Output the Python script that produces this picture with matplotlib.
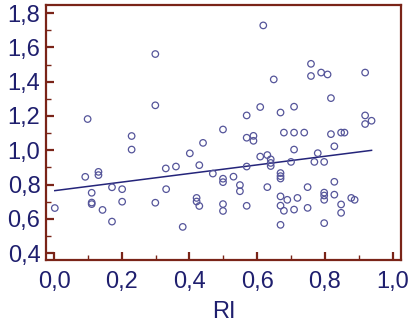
import numpy as np
import matplotlib
matplotlib.use("Agg")
import matplotlib.pyplot as plt
from matplotlib.ticker import MultipleLocator, FuncFormatter

# Points
ri = [0.002, 0.092, 0.099, 0.111, 0.111, 0.111, 0.131, 0.131, 0.143, 0.171,
      0.171, 0.201, 0.201, 0.229, 0.229, 0.299, 0.299, 0.299, 0.330, 0.331,
      0.360, 0.380, 0.401, 0.421, 0.421, 0.429, 0.429, 0.440, 0.469, 0.499,
      0.499, 0.499, 0.499, 0.499, 0.530, 0.549, 0.549, 0.569, 0.569, 0.569,
      0.569, 0.589, 0.589, 0.609, 0.609, 0.618, 0.630, 0.630, 0.640, 0.640,
      0.640, 0.649, 0.669, 0.669, 0.669, 0.669, 0.669, 0.669, 0.669, 0.679,
      0.679, 0.689, 0.700, 0.709, 0.709, 0.709, 0.709, 0.719, 0.739, 0.749,
      0.749, 0.759, 0.759, 0.769, 0.779, 0.789, 0.798, 0.798, 0.798, 0.798,
      0.798, 0.808, 0.818, 0.818, 0.828, 0.828, 0.828, 0.848, 0.858, 0.848,
      0.848, 0.878, 0.888, 0.919, 0.919, 0.919, 0.938]
val = [0.663, 0.845, 1.182, 0.752, 0.695, 0.686, 0.874, 0.855, 0.652, 0.784,
       0.584, 0.773, 0.700, 1.083, 1.004, 1.561, 1.262, 0.694, 0.894, 0.773,
       0.905, 0.553, 0.982, 0.722, 0.701, 0.913, 0.675, 1.043, 0.864, 1.121,
       0.834, 0.814, 0.686, 0.646, 0.846, 0.797, 0.761, 1.203, 1.073, 0.905,
       0.676, 1.084, 1.055, 1.252, 0.963, 1.728, 0.972, 0.785, 0.947, 0.926,
       0.908, 1.413, 1.220, 0.867, 0.849, 0.835, 0.731, 0.677, 0.565, 1.103,
       0.647, 0.711, 0.932, 1.254, 1.103, 1.004, 0.654, 0.722, 1.103, 0.785,
       0.664, 1.504, 1.433, 0.932, 0.983, 1.453, 0.932, 0.753, 0.736, 0.711,
       0.575, 1.442, 1.304, 1.094, 1.023, 0.816, 0.741, 1.103, 1.103, 0.684,
       0.635, 0.722, 0.711, 1.453, 1.203, 1.153, 1.172]

# regression line as drawn in the reference
intercept = 0.764
slope = 0.251

spine_col = "#7a2418"
text_col = "#1f1f6e"
mark_col = "#55559a"
line_col = "#24247a"

fig = plt.figure(figsize=(4.16, 3.28), dpi=100)
ax = fig.add_axes([46 / 416, 1 - 260 / 328, (401 - 46) / 416, (260 - 5) / 328])

ax.scatter(ri, val, s=22, facecolors="none", edgecolors=mark_col, linewidths=0.9, zorder=3)

xl = np.array([min(ri), max(ri)])
ax.plot(xl, intercept + slope * xl, color=line_col, lw=1.1, zorder=2)

ax.set_xlim(-0.024, 1.025)
ax.set_ylim(0.36, 1.847)

ax.xaxis.set_major_locator(MultipleLocator(0.2))
ax.xaxis.set_minor_locator(MultipleLocator(0.1))
ax.yaxis.set_major_locator(MultipleLocator(0.2))
ax.yaxis.set_minor_locator(MultipleLocator(0.1))
comma = FuncFormatter(lambda v, p: f"{v:.1f}".replace(".", ","))
ax.xaxis.set_major_formatter(comma)
ax.yaxis.set_major_formatter(comma)

for s in ax.spines.values():
    s.set_color(spine_col)
    s.set_linewidth(1.6)

ax.tick_params(which="major", direction="in", length=6, width=1.6, color=spine_col,
               labelsize=17, labelcolor=text_col)
ax.tick_params(axis="x", which="major", pad=8)
ax.tick_params(axis="y", which="major", pad=4)
ax.tick_params(which="minor", direction="in", length=3.5, width=1.0, color=spine_col)
for lab in ax.get_xticklabels() + ax.get_yticklabels():
    lab.set_family("Liberation Sans")

ax.set_xlabel("RI", fontsize=17, color=text_col, family="Liberation Sans", labelpad=6)

fig.savefig("out.png", dpi=100)
